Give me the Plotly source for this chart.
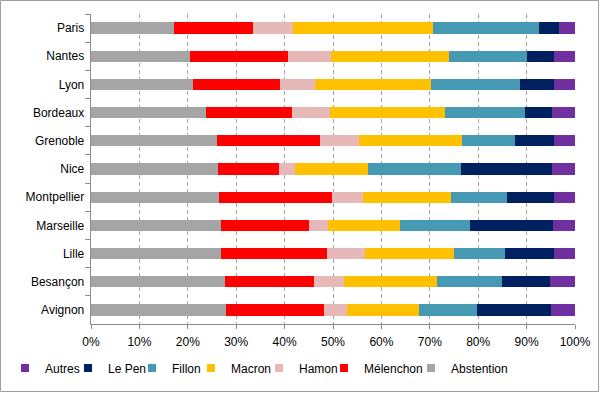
import plotly.graph_objects as go

cities = ["Paris", "Nantes", "Lyon", "Bordeaux", "Grenoble", "Nice", "Montpellier",
          "Marseille", "Lille", "Besançon", "Avignon"]

abstention = [17.1, 20.5, 21.0, 23.8, 26.0, 26.2, 26.5, 26.9, 26.9, 27.6, 27.8]
melenchon  = [16.3, 20.2, 18.0, 17.8, 21.4, 12.7, 23.2, 18.1, 21.9, 18.5, 20.3]
hamon      = [8.4, 8.8, 7.3, 7.7, 8.0, 3.2, 6.5, 3.9, 7.9, 6.2, 4.8]
macron     = [28.9, 24.5, 23.9, 23.8, 21.3, 15.1, 18.2, 14.9, 18.4, 19.2, 14.9]
fillon     = [21.9, 16.1, 18.5, 16.6, 11.0, 19.3, 11.6, 14.5, 10.4, 13.5, 12.0]
lepen      = [4.1, 5.6, 6.9, 5.6, 7.9, 18.7, 9.7, 17.2, 10.1, 9.8, 15.2]
autres     = [3.3, 4.3, 4.4, 4.7, 4.4, 4.8, 4.3, 4.5, 4.4, 5.2, 5.0]

x_ticks = [0, 10, 20, 30, 40, 50, 60, 70, 80, 90, 100]
x_labels = ["0%", "10%", "20%", "30%", "40%", "50%", "60%", "70%", "80%", "90%", "100%"]

# name, values, colour, legend entry width
series = [
    ("Abstention", abstention, "#a5a5a5", 60),
    ("Mélenchon", melenchon, "#ff0000", 42),
    ("Hamon", hamon, "#e6b9b8", 20),
    ("Macron", macron, "#ffc000", 23),
    ("Fillon", fillon, "#4599b2", 14),
    ("Le Pen", lepen, "#002060", 19),
    ("Autres", autres, "#7030a0", 18),
]

fig = go.Figure()
for name, vals, color, lw in series:
    fig.add_trace(go.Bar(
        y=cities, x=vals, name=name, orientation="h",
        marker=dict(color=color, line=dict(width=0)),
        showlegend=False,
    ))

# legend entries (small square keys), in displayed order
for name, vals, color, lw in reversed(series):
    fig.add_trace(go.Scatter(
        x=[None], y=[None], name=name, mode="markers",
        marker=dict(symbol="square", size=8, color=color),
        legendwidth=lw, hoverinfo="skip",
    ))

PL, PR, PT, PB = 91, 25, 14, 69
W, H = 600, 393
pw, ph = W - PL - PR, H - PT - PB

fig.update_layout(
    width=W, height=H,
    barmode="stack", bargap=0.6,
    margin=dict(l=PL, r=PR, t=PT, b=PB, autoexpand=False),
    paper_bgcolor="white", plot_bgcolor="white",
    font=dict(family="Liberation Sans, Arial, sans-serif", size=12, color="#000000"),
    legend=dict(orientation="h", traceorder="normal", x=(5 - PL) / pw, xanchor="left",
                y=(PT + ph - 368) / ph, yanchor="middle",
                font=dict(size=12), itemwidth=30, bgcolor="rgba(0,0,0,0)"),
    xaxis=dict(range=[0, 100], tickvals=x_ticks, ticktext=x_labels,
               showgrid=True, gridcolor="#a6a6a6", griddash="4px,3px", gridwidth=1,
               showline=True, linecolor="#8c8c8c", linewidth=1,
               ticks="outside", ticklen=4, tickcolor="#8c8c8c", zeroline=False,
               ticklabelstandoff=3, fixedrange=True, automargin=False),
    yaxis=dict(categoryorder="array", categoryarray=cities, autorange="reversed",
               showgrid=False, showline=True, linecolor="#8c8c8c", linewidth=1,
               ticks="outside", ticklen=5, tickcolor="#8c8c8c", tickson="boundaries",
               ticksuffix=" ", fixedrange=True, automargin=False),
    shapes=[dict(type="rect", xref="paper", yref="paper",
                 x0=(0.5 - PL) / pw, x1=(W - 1.5 - PL) / pw,
                 y0=(PT + ph - (H - 1.5)) / ph, y1=(PT + ph - 0.5) / ph,
                 line=dict(color="#a0a0a0", width=1), fillcolor="rgba(0,0,0,0)",
                 layer="below")],
)

fig.write_html("out.html",
               config={"displayModeBar": False, "staticPlot": True},
               post_script="document.body.style.margin='0';document.body.style.overflow='hidden';")
